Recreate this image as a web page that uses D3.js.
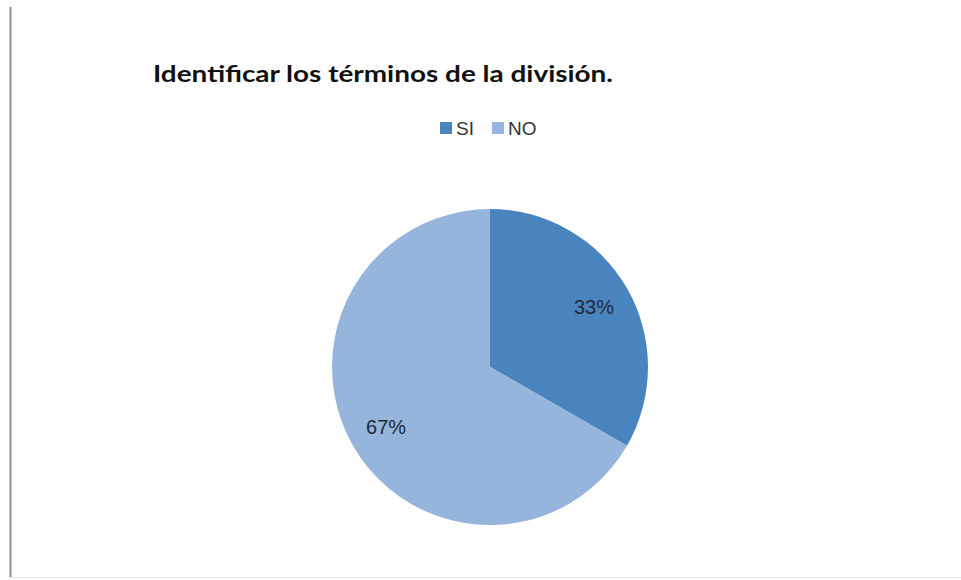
<!DOCTYPE html>
<html><head><meta charset="utf-8">
<script src="https://cdn.jsdelivr.net/npm/d3@7"></script>
<style>html,body{margin:0;padding:0;background:#fff;}</style>
</head><body>
<svg id="chart" width="961" height="580"></svg>
<script>
const title = "Identificar los términos de la división.";
const categories = ["SI", "NO"];
const values = [33.3, 66.7];
const labels = ["33%", "67%"];
const colors = ["#4a84bf", "#95b5dc"];

const svg = d3.select("#chart");
// frame
svg.append("line").attr("x1",10.5).attr("x2",10.5).attr("y1",7).attr("y2",577)
  .attr("stroke","#8c8c8c").attr("stroke-width",2);
svg.append("line").attr("x1",10).attr("x2",961).attr("y1",577.5).attr("y2",577.5)
  .attr("stroke","#e4e4e4").attr("stroke-width",1);

svg.append("text").attr("x",153).attr("y",82)
  .attr("font-family","Lato, 'Open Sans', sans-serif").attr("font-weight","bold")
  .attr("font-size",22).attr("fill","#111")
  .attr("textLength",460).attr("lengthAdjust","spacingAndGlyphs")
  .text(title);

// legend
const legX = [440, 492];
const leg = svg.append("g");
categories.forEach((c,i)=>{
  leg.append("rect").attr("x",legX[i]).attr("y",122).attr("width",12).attr("height",12).attr("fill",colors[i]);
  leg.append("text").attr("x",legX[i]+16).attr("y",135)
    .attr("font-family","'Liberation Sans', Arial, sans-serif").attr("font-size",19)
    .attr("fill","#333").text(c);
});

const cx = 490, cy = 367, r = 158;
const pie = d3.pie().sort(null).value(d=>d);
const arc = d3.arc().innerRadius(0).outerRadius(r);
const labelArc = d3.arc().innerRadius(r*0.76).outerRadius(r*0.76);
const g = svg.append("g").attr("transform",`translate(${cx},${cy})`);
const arcs = pie(values);
g.selectAll("path").data(arcs).enter().append("path")
  .attr("d",arc).attr("fill",(d,i)=>colors[i]);
g.selectAll("text").data(arcs).enter().append("text")
  .attr("transform",d=>`translate(${labelArc.centroid(d)})`)
  .attr("text-anchor","middle").attr("dy","0.35em")
  .attr("font-family","'Liberation Sans', Arial, sans-serif").attr("font-size",20)
  .attr("fill","#1f2a3a").text((d,i)=>labels[i]);
</script>
</body></html>
